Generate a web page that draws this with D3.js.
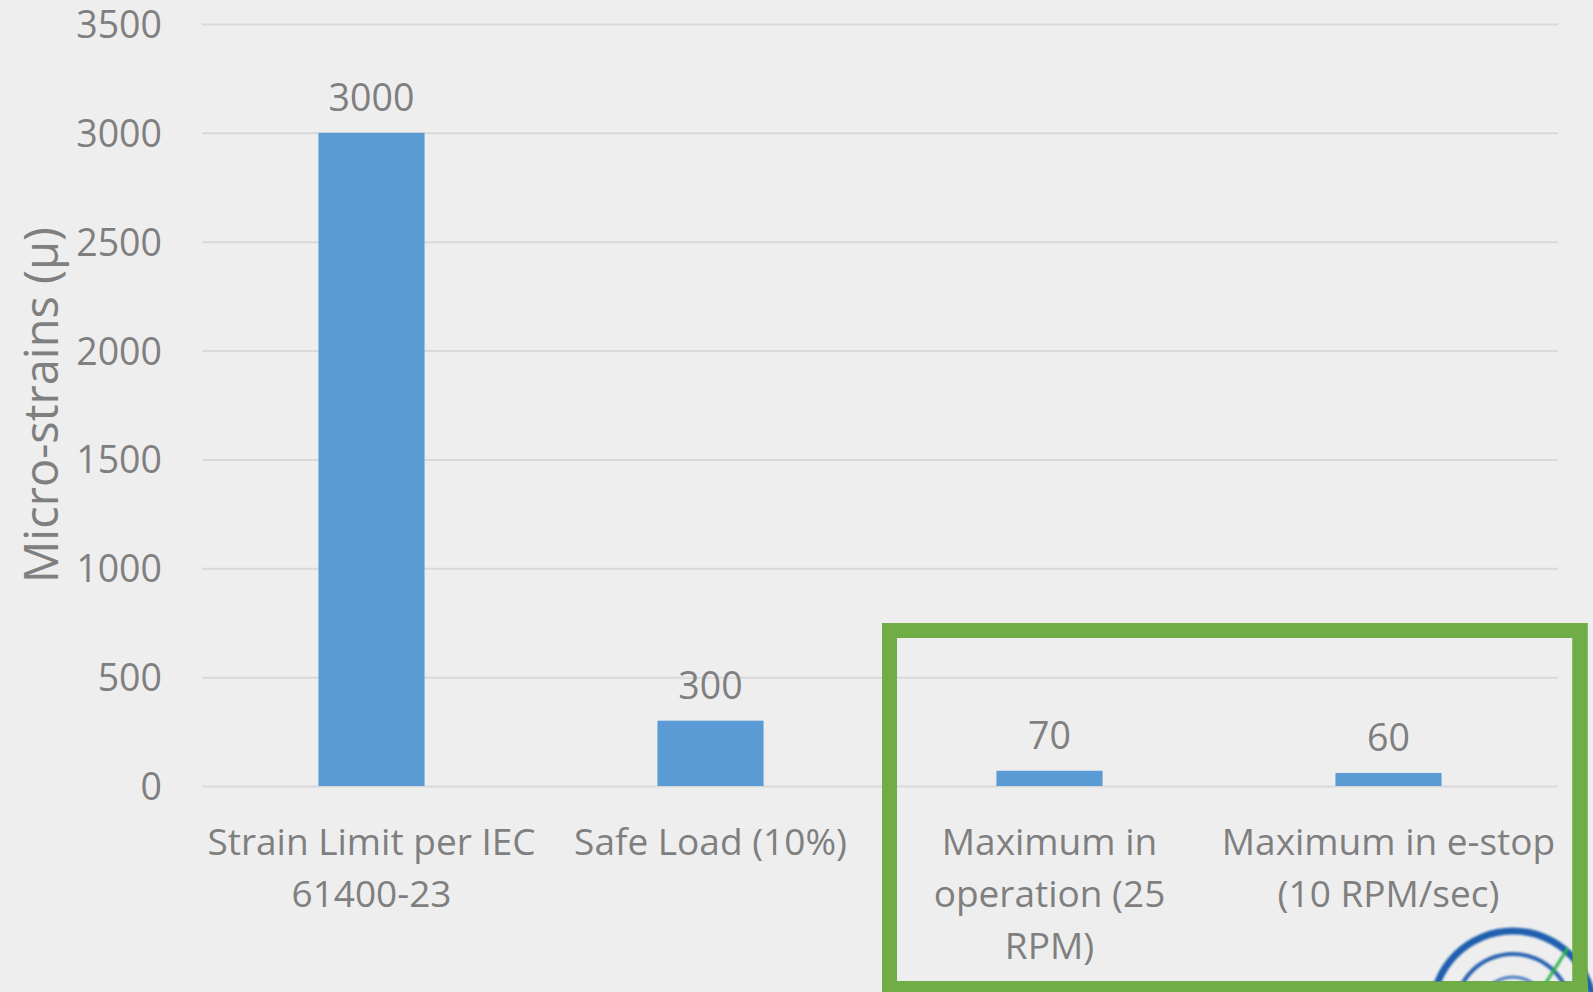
<!DOCTYPE html>
<html>
<head>
<meta charset="utf-8">
<script src="https://cdn.jsdelivr.net/npm/d3@7"></script>
<style>
  html, body { margin: 0; padding: 0; background: #eeeeee; overflow: hidden; }
  svg { display: block; }
  text { font-family: "Open Sans", "Noto Sans", sans-serif; fill: #7f7f7f; }
</style>
</head>
<body>
<svg id="chart" width="1593" height="992"></svg>
<script>
// Category labels (line breaks as in the axis) and measured strain values
const categories = [
  "Strain Limit per IEC\n61400-23",
  "Safe Load (10%)",
  "Maximum in\noperation (25\nRPM)",
  "Maximum in e-stop\n(10 RPM/sec)"
];
const strainValues = [3000, 300, 70, 60];
const yTicks = [0, 500, 1000, 1500, 2000, 2500, 3000, 3500];
const yTitle = "Micro-strains (μ)";

const W = 1593, H = 992;
const plot = { left: 202, right: 1558, top: 24, bottom: 786 };

const svg = d3.select("#chart");
svg.append("rect").attr("width", W).attr("height", H).attr("fill", "#eeeeee");

const x = d3.scaleBand()
  .domain(categories)
  .range([plot.left, plot.right])
  .padding(0);

const y = d3.scaleLinear()
  .domain([0, 3500])
  .range([plot.bottom, plot.top]);

const barW = x.bandwidth() * 0.313;

// Gridlines and value ticks
const yAxis = d3.axisLeft(y)
  .tickValues(yTicks)
  .tickSize(-(plot.right - plot.left))
  .tickPadding(40)
  .tickFormat(d3.format("d"));

const gy = svg.append("g")
  .attr("transform", `translate(${plot.left},0)`)
  .call(yAxis);
gy.select(".domain").remove();
gy.selectAll(".tick line").attr("stroke", "#d9d9d9").attr("stroke-width", 2);
gy.selectAll(".tick text")
  .attr("font-size", 37.5)
  .attr("fill", "#7f7f7f")
  .attr("dy", "0.36em");

// Bars
svg.append("g").selectAll("rect")
  .data(strainValues)
  .join("rect")
  .attr("x", (d, i) => x(categories[i]) + (x.bandwidth() - barW) / 2)
  .attr("y", d => y(d))
  .attr("width", barW)
  .attr("height", d => y(0) - y(d))
  .attr("fill", "#5b9bd5");

// Value labels
svg.append("g").selectAll("text")
  .data(strainValues)
  .join("text")
  .attr("x", (d, i) => x(categories[i]) + x.bandwidth() / 2)
  .attr("y", d => y(d) - 22)
  .attr("text-anchor", "middle")
  .attr("font-size", 37.5)
  .text(d => d);

// Category labels
const xAxis = d3.axisBottom(x).tickSize(0).tickFormat("");
const gx = svg.append("g")
  .attr("transform", `translate(0,${plot.bottom})`)
  .call(xAxis);
gx.select(".domain").remove();
gx.selectAll(".tick").each(function(d) {
  const t = d3.select(this).append("text")
    .attr("text-anchor", "middle")
    .attr("font-size", 37)
    .attr("fill", "#7f7f7f");
  d.split("\n").forEach((line, i) => {
    t.append("tspan").attr("x", 0).attr("y", 69 + i * 52).text(line);
  });
});

// Axis title
svg.append("text")
  .attr("transform", `translate(58,${(plot.top + plot.bottom) / 2}) rotate(-90)`)
  .attr("text-anchor", "middle")
  .attr("font-size", 47)
  .text(yTitle);

// Highlight frame around the measured cases
svg.append("rect")
  .attr("x", 889.5).attr("y", 630.5)
  .attr("width", 690.5).attr("height", 358)
  .attr("fill", "none")
  .attr("stroke", "#70ad47")
  .attr("stroke-width", 15);

// Corner emblem (partially visible)
const logo = svg.append("g")
  .attr("transform", "translate(1513,1012)")
  .style("filter", "blur(0.8px)");
const arc = d3.arc();
[[81, 7, "#1f5fae"], [58, 4, "#2a64b0"], [35, 3, "#4a7fc0"]].forEach(([r, w, c]) => {
  logo.append("path")
    .attr("d", arc({ innerRadius: r - w / 2, outerRadius: r + w / 2, startAngle: -Math.PI / 2, endAngle: Math.PI / 2 }))
    .attr("fill", c);
});
logo.append("line")
  .attr("x1", 55).attr("y1", -64).attr("x2", 27).attr("y2", -20)
  .attr("stroke", "#2eb34a").attr("stroke-width", 3);
// frame overlays the emblem at its edges
svg.append("line")
  .attr("x1", 882).attr("x2", 1588).attr("y1", 989).attr("y2", 989)
  .attr("stroke", "#70ad47").attr("stroke-width", 15);
svg.append("line")
  .attr("x1", 1580).attr("x2", 1580).attr("y1", 623).attr("y2", 992)
  .attr("stroke", "#70ad47").attr("stroke-width", 15);
</script>
</body>
</html>
